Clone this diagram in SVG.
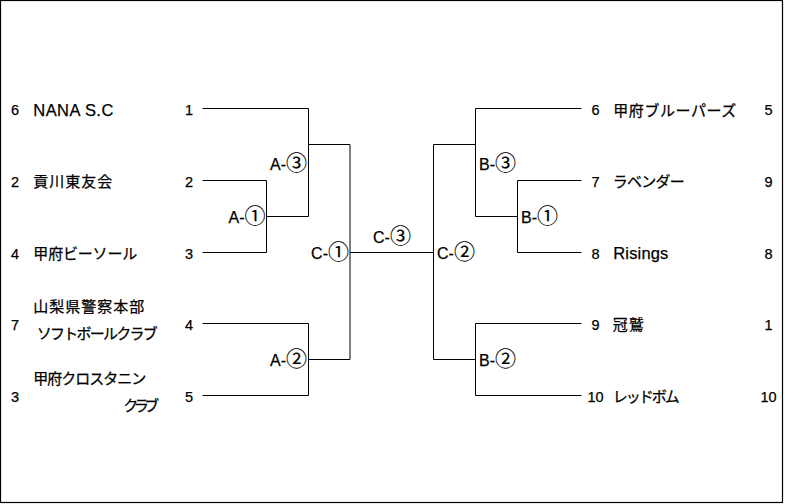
<svg xmlns="http://www.w3.org/2000/svg" width="785" height="504" viewBox="0 0 785 504">
<style>
text{font-family:"Liberation Sans","Noto Sans CJK JP",sans-serif;fill:#000;stroke:#000;stroke-width:0.25}
.n{font-size:14.5px}
.t{font-size:15px;font-family:"Noto Sans CJK JP","Liberation Sans",sans-serif}
.l{font-size:16.5px}
.m{font-size:16px}
.c{font-size:21px;font-family:"Noto Sans CJK JP",sans-serif;stroke-width:0.15}
.ln{stroke:#000;stroke-width:1;fill:none}
</style>
<rect x="0.5" y="0.5" width="782" height="502" fill="#fff" stroke="#000" stroke-width="1.2"/>
<g id="connectors" class="ln">
<path d="M202.5 108.5H308.5V216.5"/>
<path d="M202.5 180.5H266.5V252.5H202.5"/>
<path d="M266.5 216.5H308.5"/>
<path d="M308.5 144.5H350V359.5H308.5"/>
<path d="M202.5 323.5H308.5V395.5H202.5"/>
<path d="M350 252.5H433.5"/>
<path d="M475.5 144.5H433.5V359.5H475.5"/>
<path d="M581.5 108.5H475.5V216.5H517.5"/>
<path d="M581.5 180.5H517.5V252.5H581.5"/>
<path d="M581.5 323.5H475.5V395.5H581.5"/>
</g>
<g id="team-nana">
<text class="n" x="11" y="115">6</text>
<text class="l" x="33.3" y="116" textLength="80">NANA S.C</text>
<text class="n" x="185" y="115">1</text>
</g>
<g id="team-kugawa">
<text class="n" x="11" y="187">2</text>
<text class="t" x="33.3" y="187" textLength="79">貢川東友会</text>
<text class="n" x="185" y="187">2</text>
</g>
<g id="team-kofu-bisoru">
<text class="n" x="11" y="258.5">4</text>
<text class="t" x="33.3" y="258.5" textLength="104">甲府ビーソール</text>
<text class="n" x="185" y="258.5">3</text>
</g>
<g id="team-yamanashi-police">
<text class="t" x="33.3" y="312" textLength="111">山梨県警察本部</text>
<text class="n" x="11" y="329.5">7</text>
<text class="t" x="36.7" y="339" textLength="121">ソフトボールクラブ</text>
<text class="n" x="185" y="329.5">4</text>
</g>
<g id="team-kofu-crosstanin">
<text class="t" x="33.3" y="384" textLength="113">甲府クロスタニン</text>
<text class="n" x="11" y="402">3</text>
<text class="t" x="123.3" y="411" textLength="36">クラブ</text>
<text class="n" x="185" y="402">5</text>
</g>
<g id="team-kofu-bluepers">
<text class="n" x="591.5" y="115">6</text>
<text class="t" x="613.3" y="116" textLength="123">甲府ブルーパーズ</text>
<text class="n" x="764.5" y="115">5</text>
</g>
<g id="team-lavender">
<text class="n" x="591.5" y="187">7</text>
<text class="t" x="612.7" y="187" textLength="72">ラベンダー</text>
<text class="n" x="764.5" y="187">9</text>
</g>
<g id="team-risings">
<text class="n" x="591.5" y="258.5">8</text>
<text class="l" x="613.3" y="258.5" textLength="55">Risings</text>
<text class="n" x="764.5" y="258.5">8</text>
</g>
<g id="team-kanwashi">
<text class="n" x="591.5" y="329.5">9</text>
<text class="t" x="612.7" y="330" textLength="31">冠鷲</text>
<text class="n" x="764.5" y="329.5">1</text>
</g>
<g id="team-redbom">
<text class="n" x="587.5" y="402">10</text>
<text class="t" x="612.7" y="402" textLength="67">レッドボム</text>
<text class="n" x="760.5" y="402">10</text>
</g>
<g id="match-a1"><text class="m" x="265.5" y="222.5" text-anchor="end">A-<tspan class="c">①</tspan></text></g>
<g id="match-a2"><text class="m" x="307" y="366" text-anchor="end">A-<tspan class="c">②</tspan></text></g>
<g id="match-a3"><text class="m" x="307" y="169.5" text-anchor="end">A-<tspan class="c">③</tspan></text></g>
<g id="match-b1"><text class="m" x="521" y="222.5">B-<tspan class="c">①</tspan></text></g>
<g id="match-b2"><text class="m" x="479" y="366">B-<tspan class="c">②</tspan></text></g>
<g id="match-b3"><text class="m" x="479" y="169.5">B-<tspan class="c">③</tspan></text></g>
<g id="match-c1"><text class="m" x="349" y="259" text-anchor="end">C-<tspan class="c">①</tspan></text></g>
<g id="match-c2"><text class="m" x="437" y="259">C-<tspan class="c">②</tspan></text></g>
<g id="match-c3"><text class="m" x="392" y="242.5" text-anchor="middle">C-<tspan class="c">③</tspan></text></g>
</svg>
